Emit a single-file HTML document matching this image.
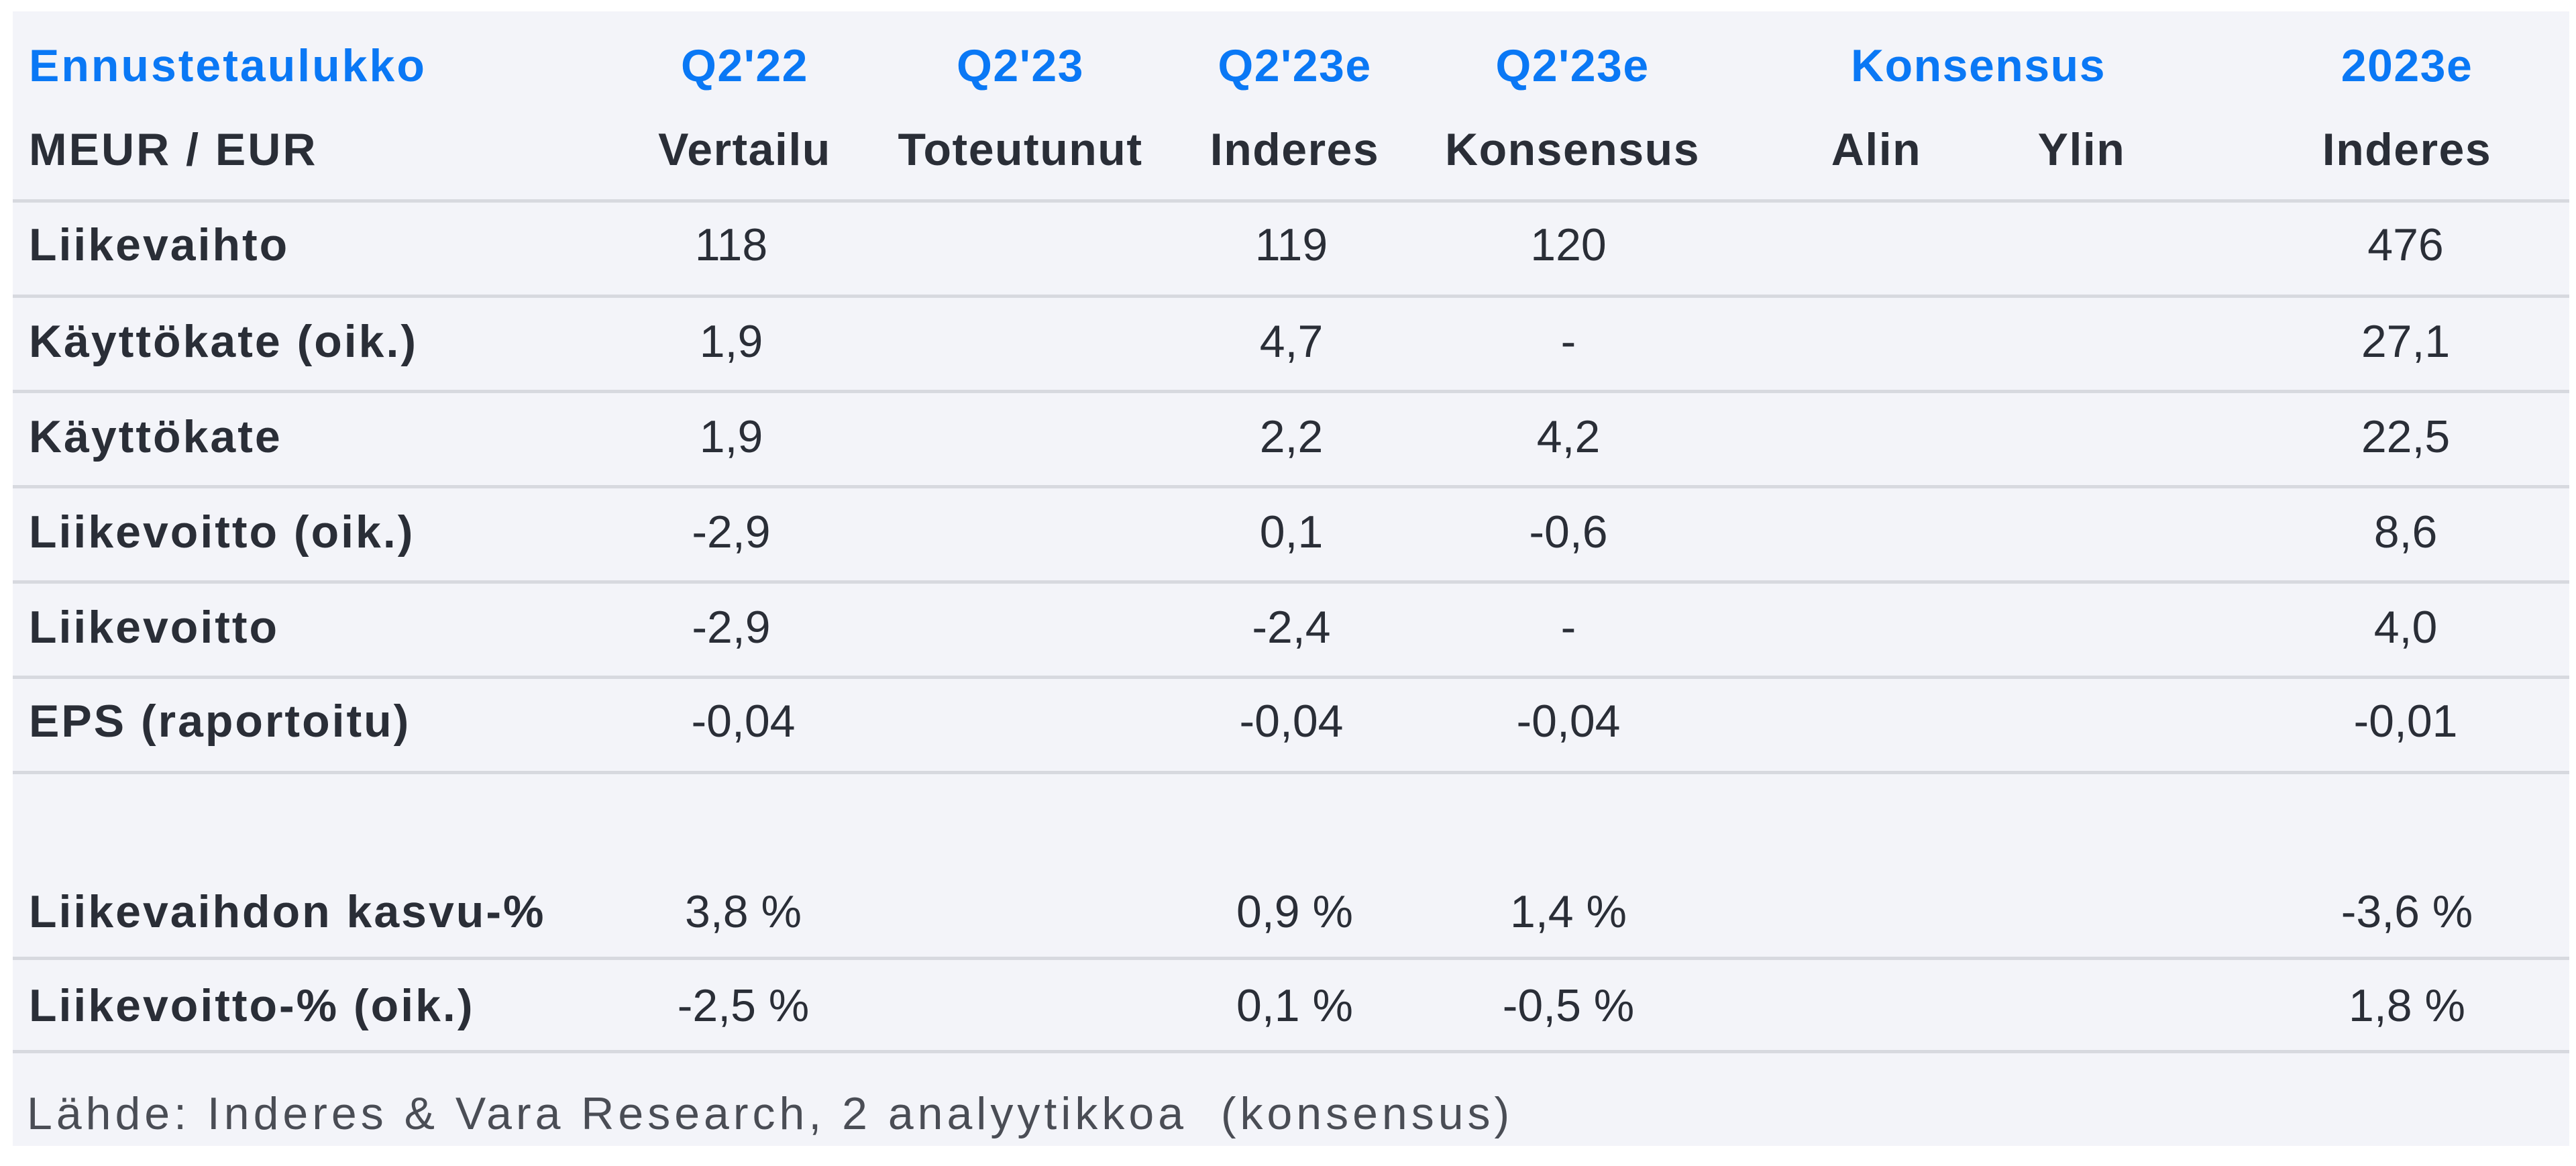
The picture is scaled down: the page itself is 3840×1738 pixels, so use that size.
<!DOCTYPE html>
<html><head><meta charset="utf-8"><style>
html,body{margin:0;padding:0;background:#fff;}
body{width:3840px;height:1738px;position:relative;overflow:hidden;font-family:"Liberation Sans",sans-serif;}
#panel{position:absolute;left:19px;top:17px;width:3811px;height:1691px;background:#f3f4f9;}
.t{position:absolute;font-size:68px;line-height:80px;color:#2a2e37;white-space:nowrap;}
.c{width:600px;text-align:center;}
.b{font-weight:bold;}
.lab{letter-spacing:3px;}
.hb{letter-spacing:1.5px;}
.blue{color:#0a78f5;font-weight:bold;}
.l{position:absolute;left:19px;width:3811px;height:5px;background:#d7d9df;}
</style></head><body>
<div id="panel"></div>
<div class="l" style="top:297px"></div>
<div class="l" style="top:439px"></div>
<div class="l" style="top:581px"></div>
<div class="l" style="top:723px"></div>
<div class="l" style="top:865px"></div>
<div class="l" style="top:1007px"></div>
<div class="l" style="top:1149px"></div>
<div class="l" style="top:1426px"></div>
<div class="l" style="top:1565px"></div>

<div class="t blue lab" style="left:43px;top:58px">Ennustetaulukko</div>
<div class="t blue c hb" style="left:810px;top:58px">Q2'22</div>
<div class="t blue c hb" style="left:1221px;top:58px">Q2'23</div>
<div class="t blue c hb" style="left:1630px;top:58px">Q2'23e</div>
<div class="t blue c hb" style="left:2044px;top:58px">Q2'23e</div>
<div class="t blue c hb" style="left:2649px;top:58px">Konsensus</div>
<div class="t blue c hb" style="left:3288px;top:58px">2023e</div>

<div class="t b lab" style="left:43px;top:183px">MEUR / EUR</div>
<div class="t b c hb" style="left:810px;top:183px">Vertailu</div>
<div class="t b c hb" style="left:1221px;top:183px">Toteutunut</div>
<div class="t b c hb" style="left:1630px;top:183px">Inderes</div>
<div class="t b c hb" style="left:2044px;top:183px">Konsensus</div>
<div class="t b c hb" style="left:2497px;top:183px">Alin</div>
<div class="t b c hb" style="left:2803px;top:183px">Ylin</div>
<div class="t b c hb" style="left:3288px;top:183px">Inderes</div>

<div class="t b lab" style="left:43px;top:325px">Liikevaihto</div>
<div class="t c" style="left:790px;top:325px">118</div>
<div class="t c" style="left:1625px;top:325px">119</div>
<div class="t c" style="left:2038px;top:325px">120</div>
<div class="t c" style="left:3286px;top:325px">476</div>

<div class="t b lab" style="left:43px;top:469px">Käyttökate (oik.)</div>
<div class="t c" style="left:790px;top:469px">1,9</div>
<div class="t c" style="left:1625px;top:469px">4,7</div>
<div class="t c" style="left:2038px;top:469px">-</div>
<div class="t c" style="left:3286px;top:469px">27,1</div>

<div class="t b lab" style="left:43px;top:611px">Käyttökate</div>
<div class="t c" style="left:790px;top:611px">1,9</div>
<div class="t c" style="left:1625px;top:611px">2,2</div>
<div class="t c" style="left:2038px;top:611px">4,2</div>
<div class="t c" style="left:3286px;top:611px">22,5</div>

<div class="t b lab" style="left:43px;top:753px">Liikevoitto (oik.)</div>
<div class="t c" style="left:790px;top:753px">-2,9</div>
<div class="t c" style="left:1625px;top:753px">0,1</div>
<div class="t c" style="left:2038px;top:753px">-0,6</div>
<div class="t c" style="left:3286px;top:753px">8,6</div>

<div class="t b lab" style="left:43px;top:895px">Liikevoitto</div>
<div class="t c" style="left:790px;top:895px">-2,9</div>
<div class="t c" style="left:1625px;top:895px">-2,4</div>
<div class="t c" style="left:2038px;top:895px">-</div>
<div class="t c" style="left:3286px;top:895px">4,0</div>

<div class="t b lab" style="left:43px;top:1035px">EPS (raportoitu)</div>
<div class="t c" style="left:808px;top:1035px">-0,04</div>
<div class="t c" style="left:1625px;top:1035px">-0,04</div>
<div class="t c" style="left:2038px;top:1035px">-0,04</div>
<div class="t c" style="left:3286px;top:1035px">-0,01</div>

<div class="t b lab" style="left:43px;top:1319px">Liikevaihdon kasvu-%</div>
<div class="t c" style="left:808px;top:1319px">3,8 %</div>
<div class="t c" style="left:1630px;top:1319px">0,9 %</div>
<div class="t c" style="left:2038px;top:1319px">1,4 %</div>
<div class="t c" style="left:3288px;top:1319px">-3,6 %</div>

<div class="t b lab" style="left:43px;top:1459px">Liikevoitto-% (oik.)</div>
<div class="t c" style="left:808px;top:1459px">-2,5 %</div>
<div class="t c" style="left:1630px;top:1459px">0,1 %</div>
<div class="t c" style="left:2038px;top:1459px">-0,5 %</div>
<div class="t c" style="left:3288px;top:1459px">1,8 %</div>

<div class="t" style="left:40px;top:1620px;color:#4a4d55;letter-spacing:6px">Lähde: Inderes &amp; Vara Research, 2 analyytikkoa&nbsp; (konsensus)</div>
</body></html>
